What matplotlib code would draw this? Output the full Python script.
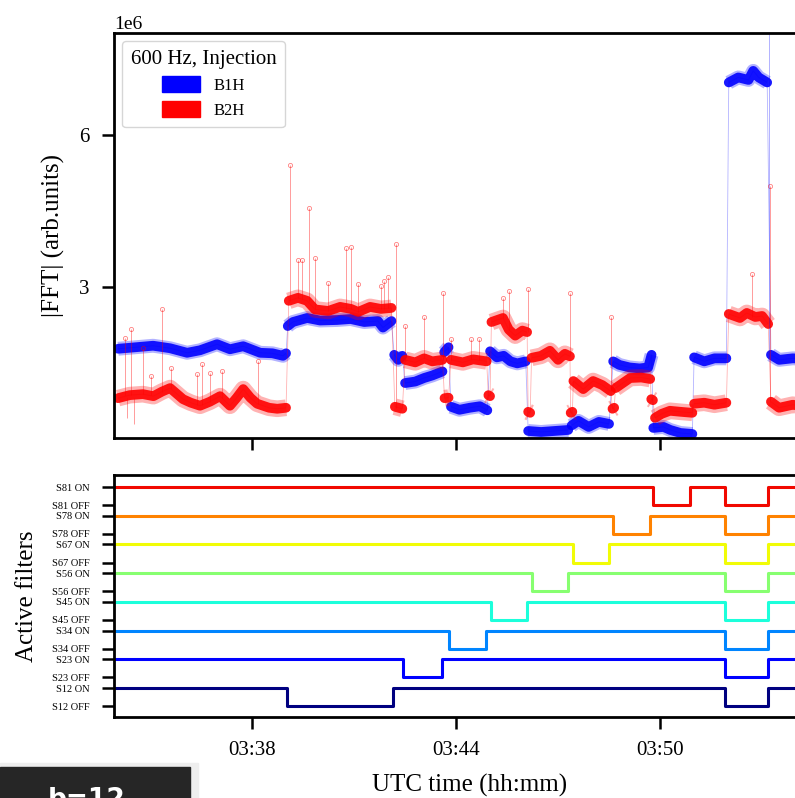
import numpy as np
import matplotlib
matplotlib.use('Agg')
import matplotlib.pyplot as plt
from matplotlib.patches import Patch, Rectangle

plt.rcParams['font.family'] = 'serif'
plt.rcParams['font.serif'] = ['Liberation Serif', 'DejaVu Serif']

# time in minutes after 03:00 UTC, |FFT| in units of 1e6
b1h_segs = [
    [(34.06, 1.77), (34.41, 1.79), (35.09, 1.83), (35.59, 1.78), (36.09, 1.69), (36.47, 1.74),
     (36.97, 1.86), (37.35, 1.76), (37.74, 1.82), (38.24, 1.69), (38.60, 1.68), (38.91, 1.63), (39.00, 1.68)],
    [(39.05, 2.22), (39.20, 2.30), (39.62, 2.38), (40.00, 2.33), (40.50, 2.34), (40.90, 2.36),
     (41.30, 2.30), (41.70, 2.32), (41.85, 2.19), (42.10, 2.32)],
    [(42.18, 1.65), (42.30, 1.55), (42.42, 1.63)],
    [(42.50, 1.09), (42.80, 1.12), (43.06, 1.19), (43.30, 1.24), (43.60, 1.32)],
    [(43.65, 1.70), (43.78, 1.80)],
    [(43.85, 0.62), (44.10, 0.56), (44.40, 0.60), (44.70, 0.63), (44.92, 0.55)],
    [(45.00, 1.72), (45.20, 1.60), (45.40, 1.63), (45.60, 1.52), (45.80, 1.48), (46.05, 1.52)],
    [(46.12, 0.14), (46.50, 0.12), (46.90, 0.14), (47.30, 0.16)],
    [(47.40, 0.25), (47.60, 0.34), (47.90, 0.22), (48.20, 0.32), (48.50, 0.28)],
    [(48.62, 1.52), (48.80, 1.45), (49.10, 1.40), (49.40, 1.38), (49.65, 1.40), (49.75, 1.65)],
    [(49.80, 0.20), (50.10, 0.22), (50.30, 0.16), (50.60, 0.10), (50.95, 0.08)],
    [(51.00, 1.60), (51.30, 1.52), (51.60, 1.58), (51.95, 1.58)],
    [(52.02, 7.05), (52.30, 7.15), (52.60, 7.10), (52.74, 7.28), (52.90, 7.15), (53.15, 7.05)],
    [(53.26, 1.65), (53.50, 1.55), (53.90, 1.58), (54.30, 1.57), (54.80, 1.58)],
]
b1h_spike_t = [53.21]
b1h_spike_base = [1.60]
b1h_spike_top = [9.0]

b2h_segs = [
    [(34.06, 0.79), (34.40, 0.85), (34.79, 0.87), (35.10, 0.83), (35.35, 0.92), (35.59, 0.99),
     (35.97, 0.77), (36.20, 0.70), (36.47, 0.64), (36.76, 0.72), (37.06, 0.83), (37.35, 0.64),
     (37.55, 0.80), (37.74, 0.97), (37.95, 0.80), (38.15, 0.68), (38.50, 0.60), (38.74, 0.58), (39.00, 0.60)],
    [(39.08, 2.72), (39.35, 2.78), (39.62, 2.72), (39.85, 2.55), (40.24, 2.52), (40.59, 2.60),
     (40.91, 2.56), (41.12, 2.50), (41.47, 2.60), (41.79, 2.56), (42.10, 2.58)],
    [(42.20, 0.62), (42.42, 0.58)],
    [(42.50, 1.55), (42.80, 1.50), (43.06, 1.58), (43.30, 1.52), (43.60, 1.55)],
    [(43.66, 0.79), (43.78, 0.80)],
    [(43.85, 1.55), (44.20, 1.50), (44.50, 1.56), (44.90, 1.52)],
    [(44.95, 0.85), (45.00, 0.83)],
    [(45.04, 2.30), (45.38, 2.38), (45.55, 2.15), (45.74, 2.03), (45.95, 2.13), (46.09, 2.10)],
    [(46.12, 0.52), (46.18, 0.50)],
    [(46.22, 1.59), (46.50, 1.63), (46.76, 1.73), (47.00, 1.55), (47.20, 1.67), (47.35, 1.62)],
    [(47.37, 0.50), (47.42, 0.52)],
    [(47.45, 1.13), (47.74, 0.97), (48.03, 1.13), (48.30, 1.05), (48.55, 0.93)],
    [(48.60, 0.58), (48.65, 0.60)],
    [(48.69, 0.99), (49.12, 1.19), (49.45, 1.20), (49.71, 1.17)],
    [(49.74, 0.77), (49.79, 0.75)],
    [(49.85, 0.40), (50.05, 0.48), (50.29, 0.54), (50.60, 0.52), (50.95, 0.50)],
    [(51.00, 0.68), (51.30, 0.70), (51.60, 0.66), (51.95, 0.70)],
    [(52.02, 2.46), (52.35, 2.38), (52.55, 2.48), (52.80, 2.40), (53.00, 2.42), (53.18, 2.26)],
    [(53.26, 0.72), (53.50, 0.60), (53.90, 0.66), (54.30, 0.62), (54.80, 0.66)],
]
b2h_spike_t = [34.26, 34.44, 34.79, 35.03, 35.35, 35.62, 36.38, 36.53, 36.76, 37.12, 38.18,
               39.12, 39.35, 39.47, 39.68, 39.85, 40.24, 40.76, 40.91, 41.12, 41.79, 41.88, 41.99, 42.24,
               42.50, 43.06, 43.62, 43.85, 44.44, 44.68, 45.38, 45.56, 46.12, 47.35, 48.56, 52.71, 53.22]
b2h_spike_base = [0.85, 0.85, 0.87, 0.85, 0.92, 0.99, 0.66, 0.66, 0.72, 0.80, 0.68,
                  2.72, 2.78, 2.76, 2.72, 2.55, 2.52, 2.56, 2.56, 2.50, 2.56, 2.56, 2.58, 0.60,
                  1.55, 1.58, 1.55, 1.55, 1.56, 1.54, 2.38, 2.15, 2.10, 1.62, 0.93, 2.40, 0.72]
b2h_spike_top = [1.99, 2.17, 1.79, 1.23, 2.56, 1.39, 1.27, 1.47, 1.29, 1.33, 1.53,
                 5.42, 3.52, 3.52, 4.57, 3.56, 3.08, 3.76, 3.78, 3.06, 3.02, 3.12, 3.20, 3.85,
                 2.22, 2.40, 2.88, 1.97, 1.97, 1.97, 2.78, 2.92, 2.96, 2.88, 2.40, 3.26, 5.00]
b2h_dip_t = [34.32, 34.53]
b2h_dip_bottom = [0.40, 0.28]

filters = ['S12', 'S23', 'S34', 'S45', 'S56', 'S67', 'S78', 'S81']
off_windows = [
    [(39.03, 42.15), (51.91, 53.18)],
    [(42.44, 43.59), (51.91, 53.18)],
    [(43.79, 44.88), (51.91, 53.18)],
    [(45.03, 46.09), (51.91, 53.18)],
    [(46.24, 47.29), (51.91, 53.18)],
    [(47.44, 48.50), (51.91, 53.18)],
    [(48.62, 49.71), (51.91, 53.18)],
    [(49.79, 50.88), (51.91, 53.18)],
]
off_gap = 0.63
xticks = [38, 44, 50]
t_min, t_max = 33.94, 54.88

fig = plt.figure(figsize=(7.95, 7.98), dpi=100)
ax1 = fig.add_axes([0.1434, 0.4511, 0.8956, 0.5075])
ax2 = fig.add_axes([0.1434, 0.1015, 0.8956, 0.3033], sharex=ax1)


def draw_series(ax, segs, color, lw, extra, alpha_out):
    all_t, all_v = [], []
    for seg in segs:
        arr = np.array(seg)
        all_t += list(arr[:, 0])
        all_v += list(arr[:, 1] * 1e6)
        ax.plot(arr[:, 0], arr[:, 1] * 1e6, color=color, lw=lw + extra, alpha=alpha_out,
                solid_capstyle='butt', solid_joinstyle='round')
        ax.plot(arr[:, 0], arr[:, 1] * 1e6, color=color, lw=lw, alpha=0.9,
                solid_capstyle='round', solid_joinstyle='round')
    ax.plot(all_t, all_v, color=color, lw=0.6, alpha=0.3)


draw_series(ax1, b1h_segs, 'blue', 7.0, 3.0, 0.3)
draw_series(ax1, b2h_segs, 'red', 7.0, 5.0, 0.3)

ax1.vlines(b2h_spike_t, np.array(b2h_spike_base) * 1e6, np.array(b2h_spike_top) * 1e6,
           color='red', lw=0.6, alpha=0.45)
ax1.plot(b2h_spike_t, np.array(b2h_spike_top) * 1e6, 'o', color='red', mfc='none',
         ms=3, mew=0.6, alpha=0.5)
ax1.vlines(b2h_dip_t, np.array(b2h_dip_bottom) * 1e6, 0.8e6, color='red', lw=0.6, alpha=0.45)
ax1.vlines(b1h_spike_t, np.array(b1h_spike_base) * 1e6, np.array(b1h_spike_top) * 1e6,
           color='blue', lw=0.6, alpha=0.35)

ax1.set_ylim(0, 8.03e6)
ax1.set_yticks([3e6, 6e6])
ax1.set_ylabel('|FFT| (arb.units)', fontsize=18, labelpad=10)
ax1.tick_params(axis='y', direction='out', length=8.6, width=1.8, labelsize=15, pad=9)
ax1.tick_params(axis='x', direction='out', length=8.6, width=1.8, labelbottom=False)
ax1.yaxis.get_offset_text().set_fontsize(14)

handles = [Patch(color='blue', label='B1H'), Patch(color='red', label='B2H')]
leg = ax1.legend(handles=handles, title='600 Hz, Injection', loc='upper left',
                 fontsize=12, title_fontsize=15, handlelength=2.3, handleheight=1.1,
                 borderaxespad=0.5, labelspacing=0.45, borderpad=0.5)

# filter states
colors = plt.cm.jet(np.linspace(0, 0.9, 8))
ytick_pos, ytick_lab = [], []
for k, name in enumerate(filters):
    on, off = k, k - off_gap
    t_pts, y_pts = [t_min], [on]
    for a, b in off_windows[k]:
        t_pts += [a, b]
        y_pts += [off, on]
    t_pts.append(t_max)
    y_pts.append(on)
    ax2.plot(t_pts, y_pts, drawstyle='steps-post', color=colors[k], lw=2.2)
    ytick_pos += [off, on]
    ytick_lab += [name + ' OFF', name + ' ON']

ax2.set_yticks(ytick_pos)
ax2.set_yticklabels(ytick_lab)
ax2.set_ylim(-1.01, 7.42)
ax2.set_xlim(t_min, t_max)
ax2.set_xticks(xticks)
ax2.set_xticklabels(['03:%02d' % m for m in xticks])
ax2.tick_params(axis='y', direction='out', length=8.6, width=1.8, labelsize=7.5, pad=9)
ax2.tick_params(axis='x', direction='out', length=8.6, width=1.8, labelsize=15, pad=9)
ax2.set_ylabel('Active filters', fontsize=18, labelpad=10)
ax2.set_xlabel('UTC time (hh:mm)', fontsize=18, labelpad=10)

for ax in (ax1, ax2):
    for s in ax.spines.values():
        s.set_linewidth(2)

# dark label box in the bottom corner
fig.patches.append(Rectangle((0, 0), 198 / 795, 35 / 798, transform=fig.transFigure,
                             color='#eeeeee', zorder=5))
fig.patches.append(Rectangle((0, 0), 190 / 795, 31 / 798, transform=fig.transFigure,
                             color='#262626', zorder=6))
fig.text(87 / 795, -9 / 798, 'b=12', color='white', fontsize=19, fontweight='bold',
         family='DejaVu Sans', ha='center', va='baseline', zorder=7)

fig.savefig('out.png', dpi=100)
